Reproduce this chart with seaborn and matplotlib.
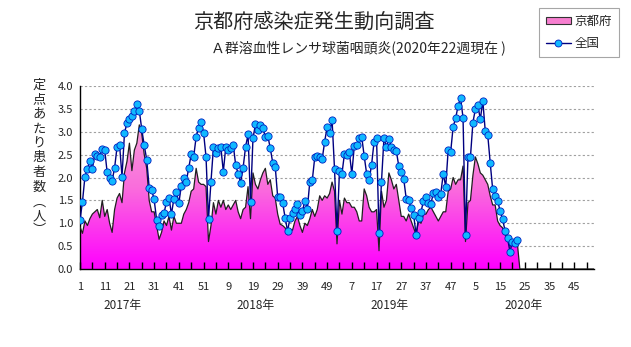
import numpy as np
import pandas as pd
import matplotlib
matplotlib.use("Agg")
import matplotlib.pyplot as plt
import seaborn as sns
from matplotlib.colors import LinearSegmentedColormap
from matplotlib.patches import PathPatch, Rectangle
from matplotlib.lines import Line2D
import matplotlib.transforms as mtrans

# ---------------- data ----------------
years = [2017, 2018, 2019, 2020]
weeks_per_year = [52, 52, 52, 53]

kyoto_2017 = [0.92, 0.78, 1.05, 0.95, 1.10, 1.20, 1.25, 1.30, 1.12, 1.50,
              1.15, 1.30, 1.00, 0.80, 1.30, 1.55, 1.65, 1.45, 2.10, 2.35,
              2.75, 2.15, 2.60, 2.75, 3.15, 2.95, 2.50, 2.20, 1.50, 1.25,
              1.25, 0.95, 0.65, 0.80, 1.05, 0.95, 1.15, 0.85, 1.15, 1.00,
              1.00, 1.00, 1.20, 1.30, 1.45, 1.70, 1.75, 2.20, 1.90, 1.85,
              1.85, 1.80]
kyoto_2018 = [0.60, 0.95, 1.45, 1.20, 1.50, 1.35, 1.50, 1.30, 1.40, 1.30,
              1.40, 1.50, 1.25, 1.10, 1.30, 1.35, 1.80, 1.10, 2.10, 1.85,
              1.75, 1.95, 2.10, 2.20, 1.85, 1.95, 1.60, 1.55, 1.20, 0.98,
              0.95, 0.90, 0.75, 0.85, 0.85, 1.05, 1.15, 0.95, 0.80, 1.00,
              0.95, 1.10, 1.30, 1.15, 1.30, 1.60, 1.50, 1.60, 1.55, 1.65,
              1.90, 1.70]
kyoto_2019 = [0.55, 1.50, 1.20, 1.55, 1.45, 1.45, 1.35, 1.35, 1.25, 1.05,
              1.05, 1.75, 1.60, 1.35, 1.25, 1.25, 1.30, 0.40, 1.70, 1.35,
              1.50, 2.10, 1.95, 1.75, 1.85, 1.50, 1.15, 1.15, 1.05, 1.20,
              1.05, 0.90, 0.75, 1.05, 1.00, 1.20, 1.20, 1.30, 1.35, 1.25,
              1.15, 1.05, 1.15, 1.25, 1.25, 1.70, 1.75, 2.00, 1.85, 1.95,
              1.95, 2.25]
kyoto_2020 = [0.60, 1.45, 1.50, 2.05, 2.45, 2.30, 2.10, 2.05, 1.95, 1.85,
              1.60, 1.40, 1.40, 1.05, 0.95, 0.90, 0.75, 0.65, 0.50, 0.55,
              0.50, 0.55]

national_2017 = [1.07, 1.47, 2.02, 2.19, 2.35, 2.19, 2.51, 2.48, 2.45, 2.63,
                 2.60, 2.11, 2.00, 1.93, 2.21, 2.67, 2.72, 2.02, 2.97, 3.19,
                 3.28, 3.35, 3.46, 3.61, 3.46, 3.05, 2.70, 2.39, 1.78, 1.73,
                 1.52, 1.08, 0.95, 1.17, 1.22, 1.47, 1.56, 1.20, 1.54, 1.68,
                 1.44, 1.82, 2.00, 1.91, 2.21, 2.51, 2.45, 2.89, 3.09, 3.21,
                 2.98, 2.45]
national_2018 = [1.09, 1.91, 2.66, 2.54, 2.64, 2.66, 2.13, 2.67, 2.60, 2.64,
                 2.72, 2.27, 2.08, 1.89, 2.21, 2.67, 2.94, 1.47, 2.86, 3.16,
                 3.04, 3.14, 3.08, 2.89, 2.91, 2.64, 2.32, 2.24, 1.57, 1.57,
                 1.45, 1.12, 0.83, 1.12, 1.22, 1.32, 1.41, 1.17, 1.26, 1.49,
                 1.32, 1.91, 1.94, 2.44, 2.46, 2.44, 2.40, 2.78, 3.10, 2.98,
                 3.26, 2.18]
national_2019 = [0.83, 2.14, 2.08, 2.51, 2.49, 2.55, 2.08, 2.69, 2.72, 2.86,
                 2.89, 2.47, 2.08, 1.95, 2.28, 2.78, 2.87, 0.79, 1.91, 2.86,
                 2.67, 2.85, 2.66, 2.61, 2.58, 2.25, 2.11, 1.97, 1.54, 1.50,
                 1.33, 1.19, 0.75, 1.11, 1.25, 1.49, 1.58, 1.45, 1.42, 1.67,
                 1.69, 1.57, 1.65, 2.08, 1.80, 2.61, 2.56, 3.11, 3.29, 3.57,
                 3.74, 3.31]
national_2020 = [0.75, 2.45, 2.45, 3.20, 3.50, 3.58, 3.27, 3.68, 3.01, 2.93,
                 2.32, 1.74, 1.60, 1.49, 1.27, 1.09, 0.84, 0.67, 0.38, 0.60,
                 0.57, 0.64]

tick_labels = ["1", "11", "21", "31", "41", "51", "9", "19", "29", "39", "49",
               "7", "17", "27", "37", "47", "5", "15", "25", "35", "45"]
year_labels = ["2017年", "2018年", "2019年", "2020年"]
year_label_pos = [17.2, 71.0, 125.4, 179.7]   # in week-index units

title = "京都府感染症発生動向調査"
subtitle = "Ａ群溶血性レンサ球菌咽頭炎(2020年22週現在 )"
ylabel_chars = ["定", "点", "あ", "た", "り", "患", "者", "数", "︵", "人", "︶"]
legend_labels = ["京都府", "全国"]

kyoto = [kyoto_2017, kyoto_2018, kyoto_2019, kyoto_2020]
national = [national_2017, national_2018, national_2019, national_2020]

# ---------------- table ----------------
rows = []
idx = 0
for yr, n, kv, nv in zip(years, weeks_per_year, kyoto, national):
    for w in range(n):
        rows.append({
            "idx": idx, "year": yr, "week": w + 1,
            "kyoto": kv[w] if w < len(kv) else np.nan,
            "national": nv[w] if w < len(nv) else np.nan,
        })
        idx += 1
df = pd.DataFrame(rows)
df["kyoto_area"] = df["kyoto"].fillna(0.0)
nmax = df["idx"].max()

# ---------------- style ----------------
sns.set_theme(style="ticks")
plt.rcParams['font.family'] = ['Noto Sans CJK JP', 'DejaVu Sans']
plt.rcParams['xtick.bottom'] = True
plt.rcParams['xtick.direction'] = 'in'

W, H = 631, 347
fig = plt.figure(figsize=(W / 100, H / 100), dpi=100)
fig.patch.set_facecolor("white")
L, R, T, B = 80, 594, 86, 269
ax = fig.add_axes([L / W, 1 - B / H, (R - L) / W, (B - T) / H])
ax.set_facecolor("white")

# dashed horizontal grid, kept underneath the area
ygrid = np.arange(0.5, 4.01, 0.5)
for gv in ygrid:
    ax.axhline(gv, linestyle=(0, (2, 2)), color="#A0A0A0", lw=0.8, zorder=0.5)

# gradient filled area (Kyoto)
poly = ax.fill_between(df["idx"], df["kyoto_area"], 0, facecolor="none",
                       edgecolor="none", zorder=1)
cmap = LinearSegmentedColormap.from_list(
    "pinkgrad", [(0.0, "#FF00FF"), (0.45, "#FA6EDC"), (1.0, "#F6BCD6")])
grad = np.linspace(0, 1, 256).reshape(-1, 1)
im = ax.imshow(grad, extent=[0, nmax, 0, 4], origin="lower", aspect="auto",
               cmap=cmap, zorder=1, interpolation="bilinear")
clip = PathPatch(poly.get_paths()[0], transform=ax.transData,
                 facecolor="none", edgecolor="none")
ax.add_patch(clip)
im.set_clip_path(clip)

sns.lineplot(data=df, x="idx", y="kyoto_area", color="#202020", lw=0.9,
             ax=ax, zorder=3, estimator=None, sort=False)

dn = df.dropna(subset=["national"])
sns.lineplot(data=dn, x="idx", y="national", color="#000080", lw=1.0,
             marker="o", markersize=5.2, markerfacecolor="#10B8FF",
             markeredgecolor="#0020C0", markeredgewidth=0.6,
             ax=ax, zorder=4, estimator=None, sort=False)

ax.set_xlim(0, nmax)
ax.set_ylim(0, 4)
ax.set_xlabel("")
ax.set_ylabel("")
ax.grid(False)
ax.set_axisbelow(False)

ax.set_yticks(np.arange(0, 4.01, 0.5))
ax.set_yticklabels([f"{v:.1f}" for v in np.arange(0, 4.01, 0.5)], fontsize=8)

xt = np.arange(0, 201, 10)
ax.set_xticks(xt)
ax.set_xticklabels(tick_labels, fontsize=8)
ax.set_xticks(np.arange(5, nmax + 1, 10), minor=True)
ax.tick_params(axis="x", which="both", direction="in", length=5, width=1.0,
               color="black", pad=9, bottom=True, top=False)
ax.tick_params(axis="y", which="both", length=0, pad=5, left=False)

for s in ["top", "right"]:
    ax.spines[s].set_visible(False)
for s in ["left", "bottom"]:
    ax.spines[s].set_color("black")
    ax.spines[s].set_linewidth(1.0)

# year labels
trans = mtrans.blended_transform_factory(ax.transData, fig.transFigure)
for lab, xp in zip(year_labels, year_label_pos):
    ax.text(xp, 1 - 306 / H, lab, transform=trans, ha="center", va="center",
            fontsize=8.5, clip_on=False)

# titles
fig.text(314 / W, 1 - 22 / H, title, ha="center", va="center", fontsize=14.5)
fig.text(358 / W, 1 - 48 / H, subtitle, ha="center", va="center", fontsize=10)

# vertical y label
fig.text(39 / W, 1 - 158 / H, "\n".join(ylabel_chars), ha="center",
         va="center", fontsize=9.5, linespacing=1.16)

# legend
handles = [Rectangle((0, 0), 1, 1, facecolor="#F77FD0", edgecolor="#333333",
                     lw=0.8),
           Line2D([], [], color="#000080", lw=1.0, marker="o", markersize=5,
                  markerfacecolor="#10B8FF", markeredgecolor="#0020C0",
                  markeredgewidth=0.6)]
leg = fig.legend(handles, legend_labels, loc="upper left",
                 bbox_to_anchor=(539 / W, 1 - 8 / H), frameon=True,
                 fancybox=False, edgecolor="#909090", fontsize=9,
                 handlelength=2.0, handleheight=0.6, borderpad=0.55,
                 labelspacing=0.75, handletextpad=0.3, borderaxespad=0)
leg.get_frame().set_linewidth(0.8)

fig.savefig("out.png", dpi=100, facecolor="white")
